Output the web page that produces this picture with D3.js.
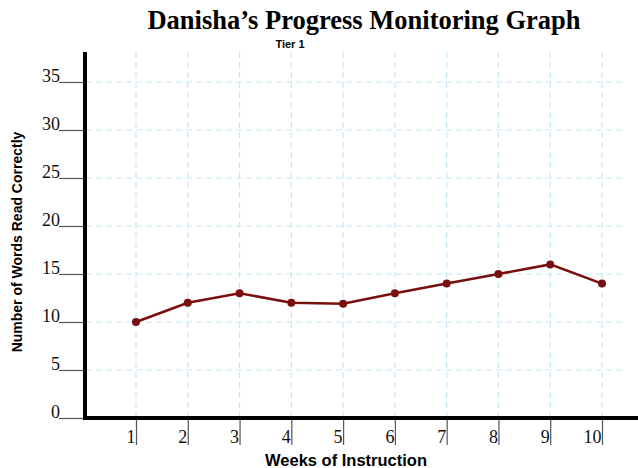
<!DOCTYPE html>
<html><head><meta charset="utf-8">
<script src="https://cdn.jsdelivr.net/npm/d3@7"></script>
<style>body{margin:0;background:#fff}svg{display:block}</style>
</head><body>
<svg id="c" width="638" height="468"></svg>
<script>
const weeks = [1,2,3,4,5,6,7,8,9,10];
const words = [10,12,13,12,11.9,13,14,15,16,14];
const yTicks = [0,5,10,15,20,25,30,35];

const svg = d3.select("#c");
const x = d3.scaleLinear().domain([1,10]).range([136,602]);
const y = d3.scaleLinear().domain([0,35]).range([418,82]);

// grid
const grid = svg.append("g").attr("stroke","#c6e8f4").attr("stroke-width",1.2).attr("stroke-dasharray","6,4");
grid.selectAll("line.v").data(weeks).enter().append("line")
  .attr("x1",d=>x(d)).attr("x2",d=>x(d)).attr("y1",52).attr("y2",418);
grid.selectAll("line.h").data(yTicks.filter(d=>d>0)).enter().append("line")
  .attr("x1",86).attr("x2",623).attr("y1",d=>y(d)).attr("y2",d=>y(d));

// y ticks
const yAxis = d3.axisLeft(y).tickValues(yTicks).tickSize(25).tickPadding(0).tickFormat(d3.format("d"));
const gy = svg.append("g").attr("transform","translate(84,0)").call(yAxis);
gy.select(".domain").remove();
gy.selectAll(".tick line").attr("stroke","#555").attr("stroke-width",1.2);
gy.selectAll(".tick text").attr("font-family","Liberation Serif, Times New Roman, serif").attr("font-size",18).attr("fill","#111")
  .attr("dy","-0.05em").attr("x",-24);

// x ticks
const xAxis = d3.axisBottom(x).tickValues(weeks).tickSize(26).tickPadding(0).tickFormat(d3.format("d"));
const gx = svg.append("g").attr("transform","translate(0,419)").call(xAxis);
gx.select(".domain").remove();
gx.selectAll(".tick line").attr("stroke","#555").attr("stroke-width",1.2);
gx.selectAll(".tick text").attr("font-family","Liberation Serif, Times New Roman, serif").attr("font-size",18).attr("fill","#111")
  .attr("text-anchor","end").attr("x",-1).attr("y",24).attr("dy",0);

// axes lines
svg.append("line").attr("x1",85).attr("x2",85).attr("y1",52).attr("y2",420).attr("stroke","#000").attr("stroke-width",4);
svg.append("line").attr("x1",83).attr("x2",638).attr("y1",418).attr("y2",418).attr("stroke","#000").attr("stroke-width",4);

// data line
const data = weeks.map((w,i)=>({w,v:words[i]}));
svg.append("path").datum(data).attr("fill","none").attr("stroke","#7a0f0f").attr("stroke-width",2.5)
  .attr("d",d3.line().x(d=>x(d.w)).y(d=>y(d.v)));
svg.selectAll("circle.pt").data(data).enter().append("circle")
  .attr("cx",d=>x(d.w)).attr("cy",d=>y(d.v)).attr("r",4).attr("fill","#7a0f0f");

// titles
svg.append("text").attr("x",364).attr("y",29).attr("text-anchor","middle")
  .attr("font-family","Liberation Serif, Times New Roman, serif").attr("font-weight","bold").attr("font-size",26.5)
  .text("Danisha\u2019s Progress Monitoring Graph");
svg.append("text").attr("x",290).attr("y",48).attr("text-anchor","middle")
  .attr("font-family","Liberation Sans, Arial, sans-serif").attr("font-weight","bold").attr("font-size",11)
  .text("Tier 1");
svg.append("text").attr("transform","translate(22,242) rotate(-90)").attr("text-anchor","middle")
  .attr("font-family","Liberation Sans, Arial, sans-serif").attr("font-weight","bold").attr("font-size",14)
  .text("Number of Words Read Correctly");
svg.append("text").attr("x",346).attr("y",466).attr("text-anchor","middle")
  .attr("font-family","Liberation Sans, Arial, sans-serif").attr("font-weight","bold").attr("font-size",16.5)
  .text("Weeks of Instruction");
</script>
</body></html>
